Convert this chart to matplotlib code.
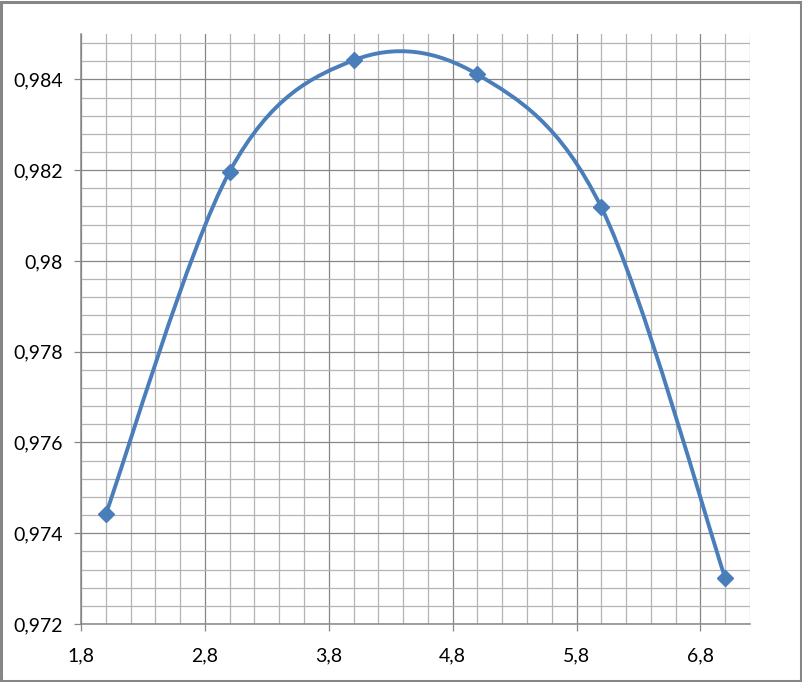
import matplotlib
matplotlib.use("Agg")
import matplotlib.pyplot as plt
import numpy as np
from matplotlib.path import Path
from matplotlib.patches import PathPatch, Rectangle
from matplotlib.ticker import MultipleLocator, FuncFormatter

# data
x_vals = [2, 3, 4, 5, 6, 7]
y_vals = [0.97442, 0.98197, 0.98442, 0.98411, 0.98118, 0.97301]

x_ticks = [1.8, 2.8, 3.8, 4.8, 5.8, 6.8]
y_ticks = [0.972, 0.974, 0.976, 0.978, 0.98, 0.982, 0.984]

blue = '#4a7ebb'
major_grey = '#868686'
minor_grey = '#b4b4b4'

plt.rcParams['font.family'] = ['Lato', 'DejaVu Sans']

fig = plt.figure(figsize=(8.03, 6.82), dpi=100)
ax = fig.add_axes([81/803, 1-624/682, (750-81)/803, (624-34)/682])

# smoothed line the way Excel does it (bezier, tension 1/6)
pts = np.column_stack([x_vals, y_vals])
n = len(pts)
verts = [tuple(pts[0])]
codes = [Path.MOVETO]
for i in range(n-1):
    p0 = pts[max(i-1, 0)]
    p1 = pts[i]
    p2 = pts[i+1]
    p3 = pts[min(i+2, n-1)]
    c1 = p1 + (p2 - p0)/6
    c2 = p2 - (p3 - p1)/6
    verts += [tuple(c1), tuple(c2), tuple(p2)]
    codes += [Path.CURVE4]*3
ax.add_patch(PathPatch(Path(verts, codes), facecolor='none', edgecolor=blue,
                       lw=2.8, capstyle='round', joinstyle='round', zorder=3))
ax.plot(x_vals, y_vals, linestyle='none', marker='D', markersize=8.5,
        color=blue, zorder=4)

ax.set_xlim(1.8, 7.2)
ax.set_ylim(0.972, 0.985)
ax.set_xticks(x_ticks)
ax.set_yticks(y_ticks)
ax.xaxis.set_minor_locator(MultipleLocator(0.2))
ax.yaxis.set_minor_locator(MultipleLocator(0.0004))
ax.xaxis.set_major_formatter(FuncFormatter(lambda v, p: ('%g' % round(v, 1)).replace('.', ',')))
ax.yaxis.set_major_formatter(FuncFormatter(lambda v, p: ('%g' % round(v, 3)).replace('.', ',')))

ax.grid(which='major', color=major_grey, lw=0.9, zorder=1)
ax.grid(which='minor', color=minor_grey, lw=0.9, zorder=0)
ax.set_axisbelow(True)

for s in ['top', 'right']:
    ax.spines[s].set_visible(False)
for s in ['left', 'bottom']:
    ax.spines[s].set_color(major_grey)
    ax.spines[s].set_linewidth(1.1)

ax.tick_params(which='major', length=5, width=0.9, color=major_grey,
               labelsize=14, labelcolor='black')
ax.tick_params(axis='x', which='major', pad=12)
ax.tick_params(axis='y', which='major', pad=8)
ax.tick_params(which='minor', length=0)

# chart border
fig.add_artist(Rectangle((1.5/803, 1.5/682), 799.5/803, 679/682,
                         transform=fig.transFigure, fill=False,
                         edgecolor=major_grey, lw=2.2))

fig.savefig('out.png', dpi=100)
